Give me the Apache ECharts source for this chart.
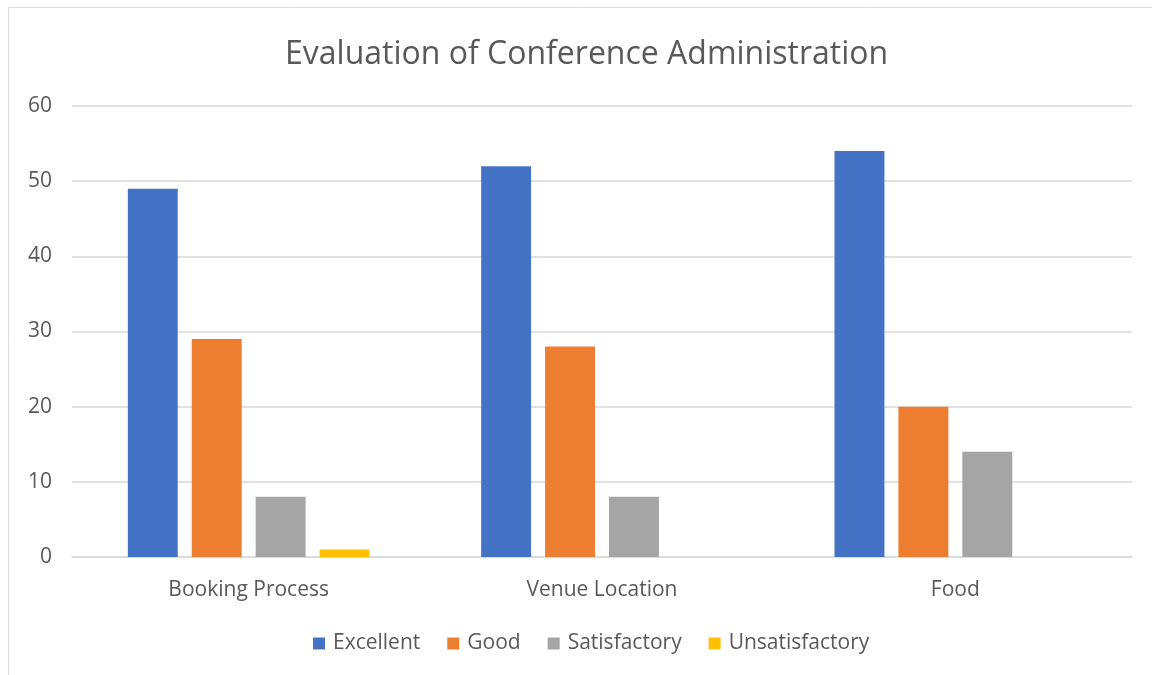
<!DOCTYPE html>
<html><head><meta charset="utf-8">
<script src="https://cdn.jsdelivr.net/npm/echarts@6/dist/echarts.min.js"></script>
<style>html,body{margin:0;padding:0;background:#fff}#c{width:1152px;height:675px}</style>
</head><body><div id="c"></div>
<script>
const categories = ['Booking Process', 'Venue Location', 'Food'];
const seriesNames = ['Excellent', 'Good', 'Satisfactory', 'Unsatisfactory'];
const excellent = [49, 52, 54];
const good = [29, 28, 20];
const satisfactory = [8, 8, 14];
const unsatisfactory = [1, 0, 0];
const colors = ['#4472C4', '#ED7D31', '#A5A5A5', '#FFC000'];
const values = [excellent, good, satisfactory, unsatisfactory];
const FONT = '"Open Sans", "Noto Sans", sans-serif';
const chart = echarts.init(document.getElementById('c'), null, {renderer: 'canvas'});
chart.setOption({
  animation: false,
  textStyle: {fontFamily: FONT},
  graphic: [{type: 'rect', shape: {x: 8.5, y: 7.5, width: 1160, height: 680}, style: {fill: 'none', stroke: '#D9D9D9', lineWidth: 1}}],
  title: {text: 'Evaluation of Conference Administration', left: 280, top: 34,
    textStyle: {fontFamily: FONT, fontSize: 32, fontWeight: 'normal', color: '#595959'}},
  legend: {bottom: 16, left: 308, itemWidth: 12, itemHeight: 12, itemGap: 27, icon: 'rect',
    textStyle: {fontFamily: FONT, fontSize: 21, color: '#595959', padding: [0, 0, 0, 3]}, data: seriesNames},
  grid: {left: 72, right: 20, top: 106, bottom: 118, containLabel: false},
  xAxis: {type: 'category', data: categories,
    axisLine: {lineStyle: {color: '#D9D9D9', width: 1.5}}, axisTick: {show: false},
    axisLabel: {fontSize: 21, color: '#595959', margin: 23, fontFamily: FONT}},
  yAxis: {type: 'value', min: 0, max: 60, interval: 10,
    splitLine: {lineStyle: {color: '#D9D9D9', width: 1.5}}, axisLine: {show: false}, axisTick: {show: false},
    axisLabel: {fontSize: 21, color: '#595959', margin: 20, fontFamily: FONT}},
  series: seriesNames.map((n, i) => ({name: n, type: 'bar', data: values[i], barGap: '28%', barCategoryGap: '31.6%',
    itemStyle: {color: colors[i]}}))
});
</script></body></html>
